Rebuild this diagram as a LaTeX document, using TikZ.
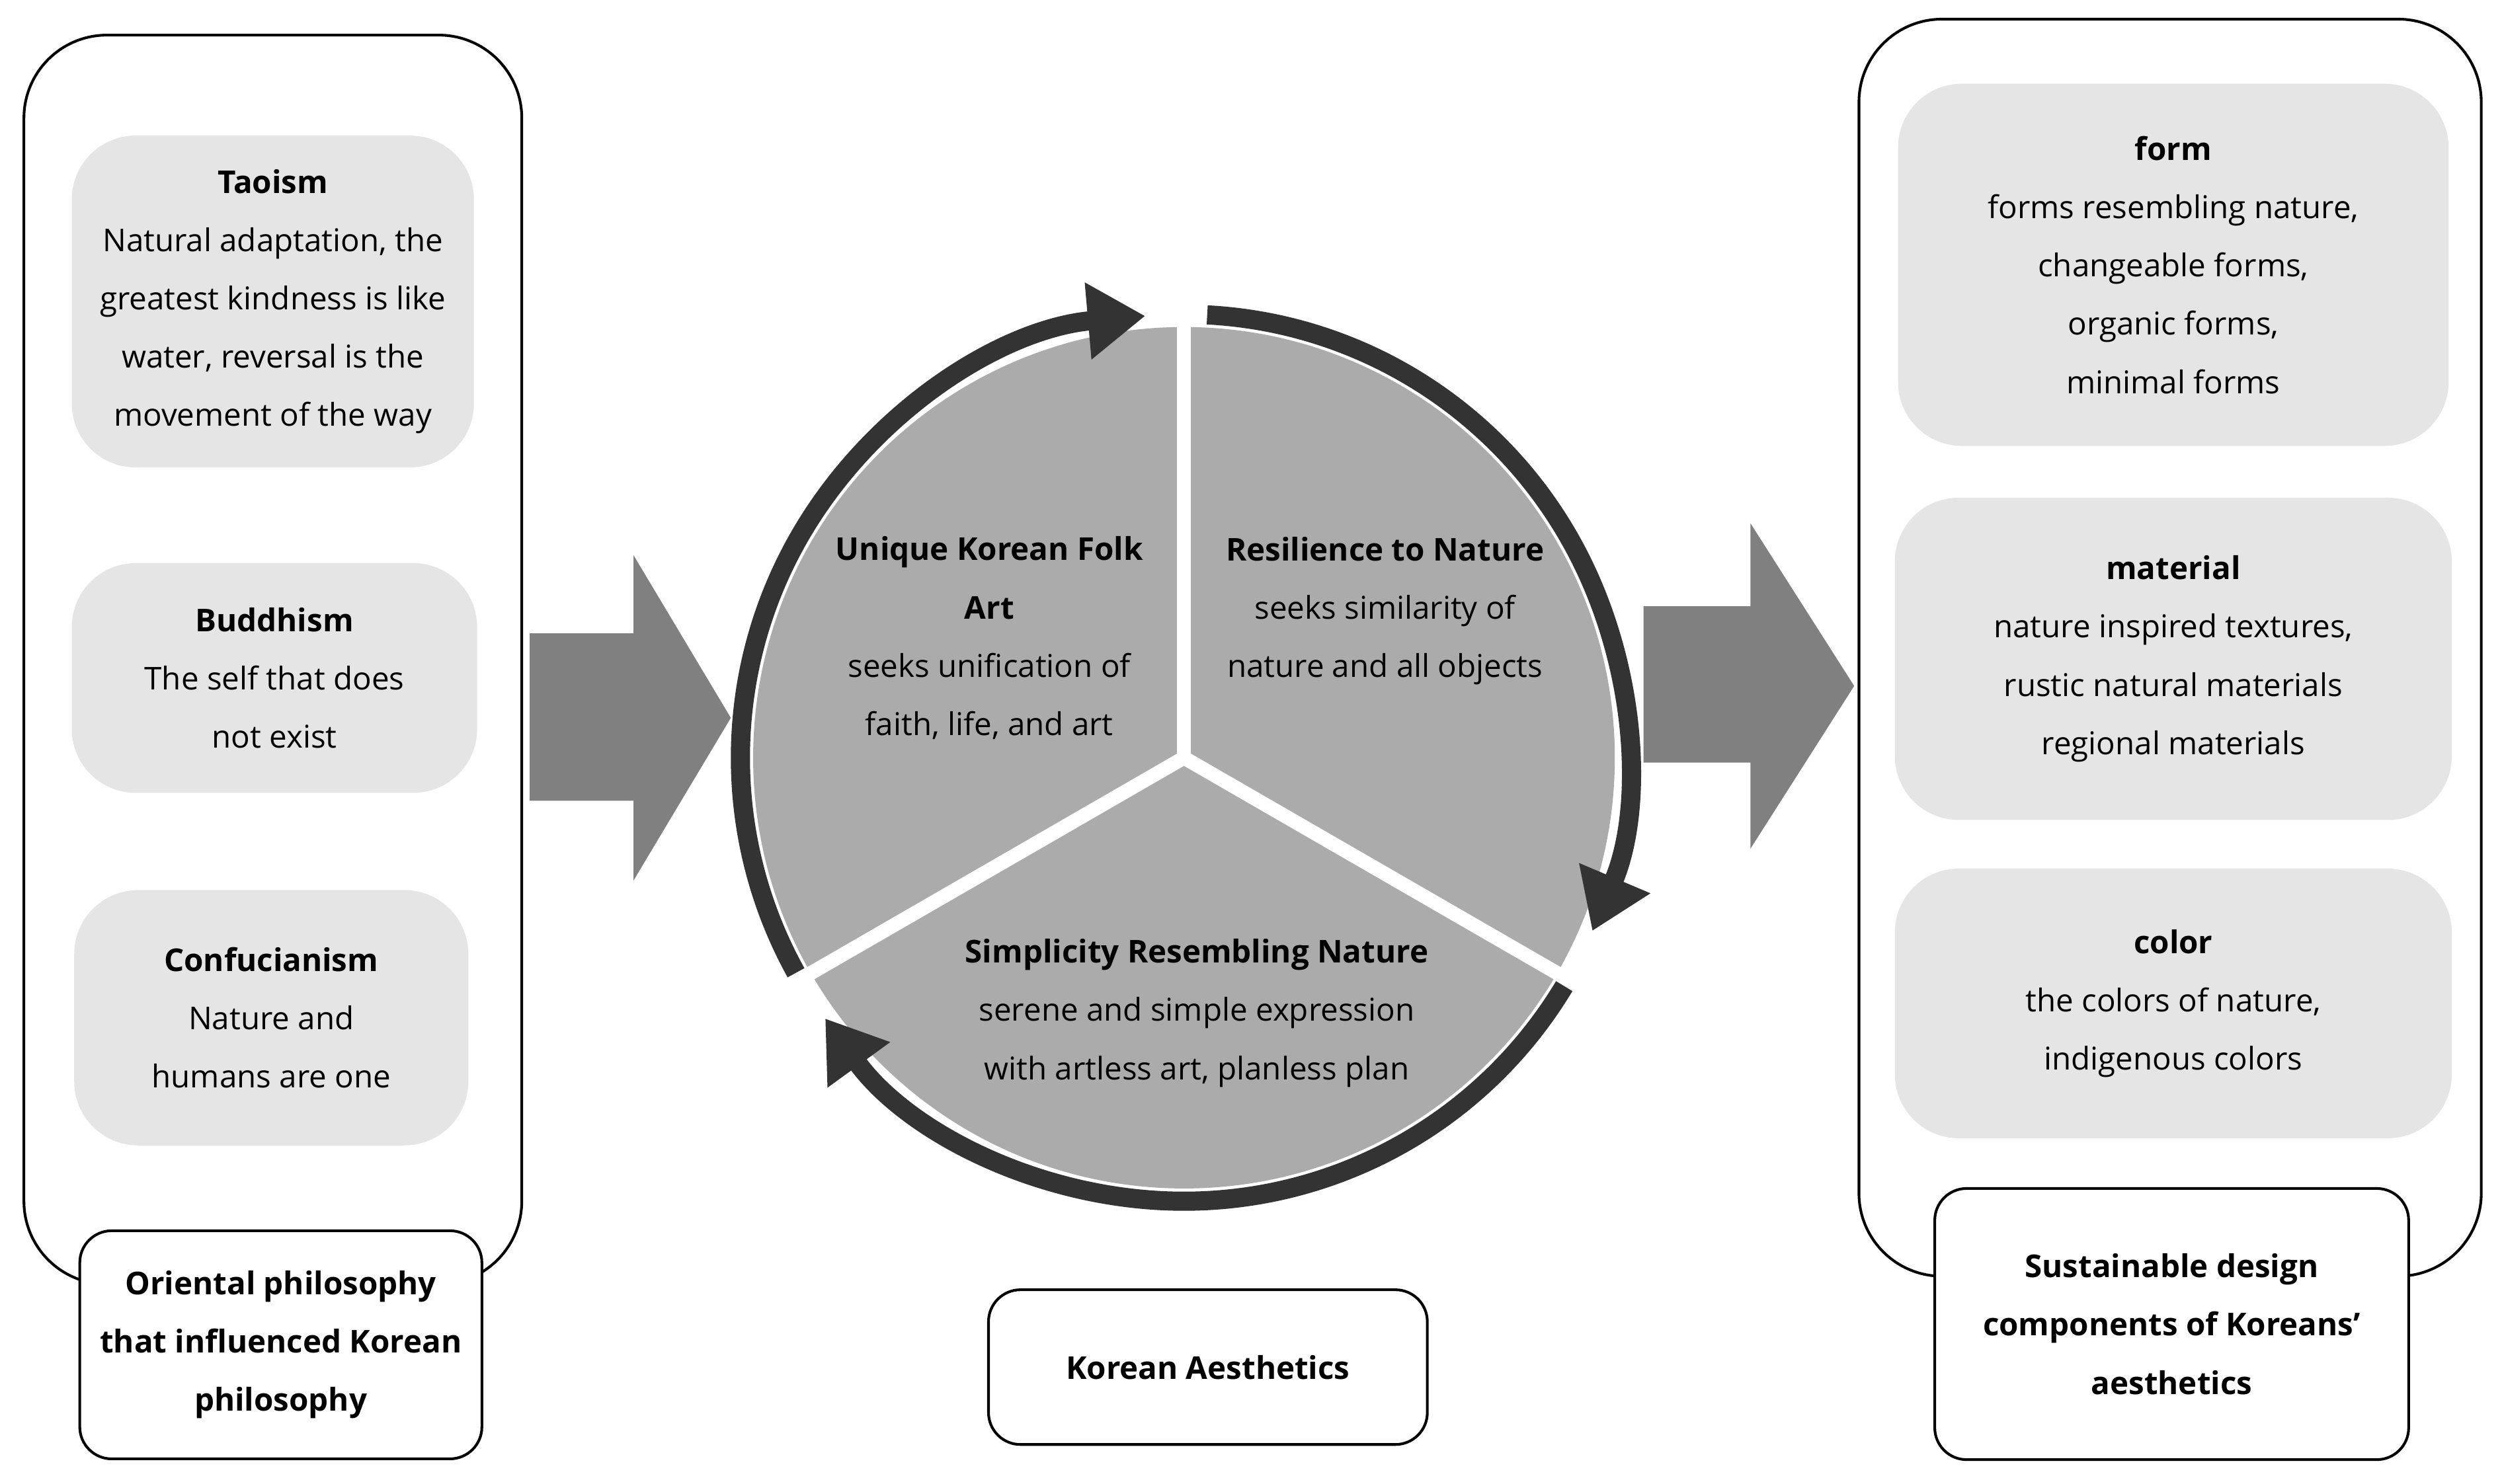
\documentclass[tikz,border=0pt]{standalone}
\usepackage{fontspec}
\setmainfont{Open Sans}
\usetikzlibrary{arrows.meta}
\begin{document}
\begin{tikzpicture}[x=0.025cm,y=0.025cm,
  txt/.style={align=center,font=\fontsize{14}{26}\selectfont,inner sep=0},
  outer/.style={draw=black,line width=1.2pt,fill=white,rounded corners=1.3cm},
  inbox/.style={fill=gray!20,draw=none,rounded corners=1cm},
  lab/.style={draw=black,line width=1.2pt,fill=white,rounded corners=0.5cm},
  bigarrow/.style={fill=gray!95!white,draw=none,fill=black!50},
  ring/.style={draw=black!80,line width=0.3cm,-{Triangle[length=0.9cm,width=1.15cm]}}]
\useasboundingbox (0,0) rectangle (1568,-930);
% left panel
\draw[outer] (15,-22) rectangle (327,-805);
\node[inbox,minimum width=252*0.025cm,minimum height=208*0.025cm] (tao) at (171,-189) {};
\node[txt] at (tao) {\textbf{Taoism}\\Natural adaptation, the\\greatest kindness is like\\water, reversal is the\\movement of the way};
\node[inbox,minimum width=254*0.025cm,minimum height=144*0.025cm] (bud) at (172,-425) {};
\node[txt] at (bud) {\textbf{Buddhism}\\The self that does\\not exist};
\node[inbox,minimum width=247*0.025cm,minimum height=160*0.025cm] (con) at (170,-638) {};
\node[txt] at (con) {\textbf{Confucianism}\\Nature and\\humans are one};
\node[lab,minimum width=252*0.025cm,minimum height=143*0.025cm] (llab) at (176,-843) {};
\node[txt] at (llab) {\textbf{Oriental philosophy}\\\textbf{that influenced Korean}\\\textbf{philosophy}};
% left arrow
\fill[black!50] (332,-397) -- (397,-397) -- (397,-348) -- (458,-450) -- (397,-552) -- (397,-502) -- (332,-502) -- cycle;
\coordinate (la) at (458,-450);
% circle
\coordinate (c) at (742,-475);
\fill[gray!60!black!45,fill=black!33] (c) circle (270);
\draw[white,line width=0.22cm] (c) -- ++(90:275);
\draw[white,line width=0.22cm] (c) -- ++(210:275);
\draw[white,line width=0.22cm] (c) -- ++(-30:275);
\draw[ring] (c) ++(209:278) arc (209:95:278);
\draw[ring] (c) ++(87:278) arc (87:-23:278);
\draw[ring] (c) ++(-31:278) arc (-31:-144:278);
\node[txt] (n1) at (620,-400) {\textbf{Unique Korean Folk}\\\textbf{Art}\\seeks unification of\\faith, life, and art};
\node[txt] (n2) at (868,-383) {\textbf{Resilience to Nature}\\seeks similarity of\\nature and all objects};
\node[txt] (n3) at (750,-635) {\textbf{Simplicity Resembling Nature}\\serene and simple expression\\with artless art, planless plan};
\node[lab,minimum width=275*0.025cm,minimum height=97*0.025cm] (kab) at (757,-857) {};
\node[txt] at (kab) {\textbf{Korean Aesthetics}};
% right arrow
\fill[black!50] (1030,-380) -- (1097,-380) -- (1097,-328) -- (1162,-430) -- (1097,-532) -- (1097,-478) -- (1030,-478) -- cycle;
% right panel
\draw[outer] (1165,-12) rectangle (1555,-800);
\node[inbox,minimum width=345*0.025cm,minimum height=227*0.025cm] (form) at (1362,-166) {};
\node[txt] at (form) {\textbf{form}\\forms resembling nature,\\changeable forms,\\organic forms,\\minimal forms};
\node[inbox,minimum width=349*0.025cm,minimum height=202*0.025cm] (mat) at (1362,-413) {};
\node[txt] at (mat) {\textbf{material}\\nature inspired textures,\\rustic natural materials\\regional materials};
\node[inbox,minimum width=349*0.025cm,minimum height=169*0.025cm] (col) at (1362,-629) {};
\node[txt] at (col) {\textbf{color}\\the colors of nature,\\indigenous colors};
\node[lab,minimum width=297*0.025cm,minimum height=170*0.025cm] (rlab) at (1361,-830) {};
\node[txt] at (rlab) {\textbf{Sustainable design}\\\textbf{components of Koreans'}\\\textbf{aesthetics}};
\end{tikzpicture}
\end{document}
